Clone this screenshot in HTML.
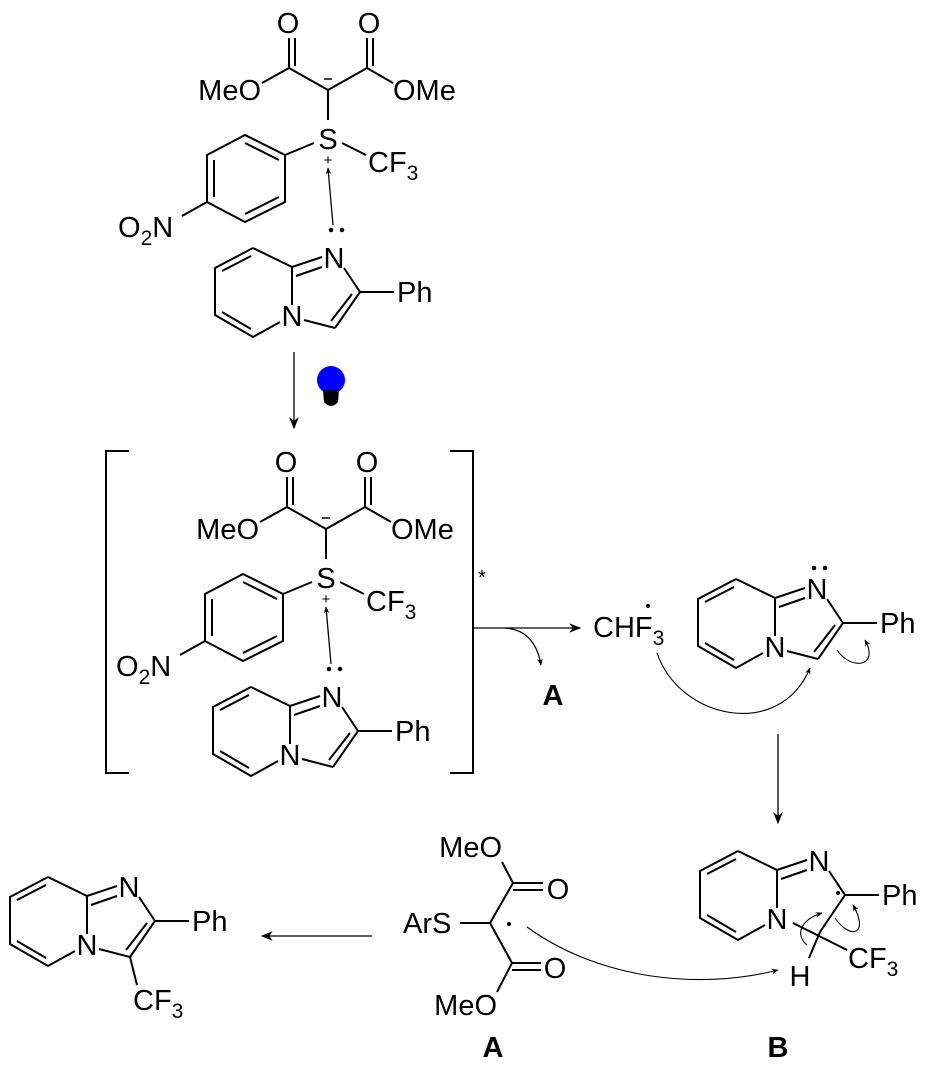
<!DOCTYPE html>
<html><head><meta charset="utf-8"><style>
html,body{margin:0;padding:0;background:#fff}
svg{display:block}
text{font-family:"Liberation Sans",Arial,sans-serif;font-size:29px;fill:#000}
.b{font-weight:bold}
</style></head><body>
<svg width="928" height="1076" viewBox="0 0 928 1076" xmlns="http://www.w3.org/2000/svg">
<defs>
<marker id="ah" viewBox="0 0 10 10" refX="9" refY="5" markerWidth="7" markerHeight="7" orient="auto" markerUnits="userSpaceOnUse"><path d="M0,1 L10,5 L0,9 L3,5 z" fill="#000"/></marker>
<marker id="ahL" viewBox="0 0 10 10" refX="9" refY="5" markerWidth="14" markerHeight="12" orient="auto" markerUnits="userSpaceOnUse"><path d="M0,1 L10,5 L0,9 L3,5 z" fill="#000"/></marker>
</defs>

<!-- ===== Top complex ===== -->
<g id="cx1" stroke="#000" stroke-width="2" fill="none">
  <!-- malonate -->
  <line x1="289" y1="68" x2="289" y2="38"/><line x1="295" y1="66" x2="295" y2="38"/>
  <line x1="367" y1="68" x2="367" y2="38"/><line x1="373" y1="66" x2="373" y2="38"/>
  <line x1="289" y1="68" x2="328" y2="90"/><line x1="367" y1="68" x2="328" y2="90"/>
  <line x1="289" y1="68" x2="262" y2="83"/><line x1="367" y1="68" x2="393" y2="83"/>
  <line x1="324" y1="79" x2="332" y2="79" stroke-width="1.5"/>
  <line x1="328" y1="90" x2="328" y2="120"/>
  <line x1="314" y1="143" x2="285" y2="155"/>
  <line x1="342" y1="143" x2="366" y2="155"/>
  <!-- benzene -->
  <polygon points="285,155 245,135 207,155 207,202 245,222 285,202"/>
  <line x1="245" y1="143" x2="279" y2="160"/>
  <line x1="214" y1="160" x2="214" y2="197"/>
  <line x1="245" y1="214" x2="279" y2="197"/>
  <line x1="207" y1="202" x2="182" y2="216"/>
  <!-- dative arrow -->
  <line x1="333" y1="225" x2="328" y2="168" stroke-width="1.3" marker-end="url(#ah)"/>
  <!-- imidazopyridine -->
  <g id="imz1">
    <line x1="292" y1="267" x2="322" y2="257"/><line x1="296" y1="276" x2="322" y2="267"/>
    <line x1="292" y1="267" x2="292" y2="305"/>
    <line x1="292" y1="267" x2="253" y2="248"/>
    <polyline points="253,248 215,268 215,315 253,337 280,322"/>
    <line x1="251" y1="256" x2="222" y2="271"/>
    <line x1="222" y1="312" x2="251" y2="329"/>
    <line x1="344" y1="268" x2="360" y2="292"/>
    <line x1="360" y1="292" x2="335" y2="328"/><line x1="352" y1="294" x2="331" y2="321"/>
    <line x1="304" y1="320" x2="335" y2="328"/>
    <line x1="360" y1="292" x2="394" y2="292"/>
  </g>
</g>
<g id="cx1t">
  <text x="288" y="33" text-anchor="middle">O</text>
  <text x="369" y="33" text-anchor="middle">O</text>
  <text x="261" y="100" text-anchor="end">MeO</text>
  <text x="393" y="100">OMe</text>
  <text x="328" y="149" text-anchor="middle">S</text>
  <text x="328" y="165" text-anchor="middle" style="font-size:15px">+</text>
  <text x="368" y="172">CF<tspan dy="8" style="font-size:21px">3</tspan></text>
  <text x="118" y="237">O<tspan dy="8" style="font-size:21px">2</tspan><tspan dy="-8">N</tspan></text>
  <circle cx="331" cy="230" r="2.3"/><circle cx="342" cy="230" r="2.3"/>
  <text x="334" y="268" text-anchor="middle">N</text>
  <text x="292" y="326" text-anchor="middle">N</text>
  <text x="397" y="302">Ph</text>
</g>

<!-- reaction arrow + bulb -->
<line x1="294" y1="352" x2="294" y2="428" stroke="#000" stroke-width="1.3" marker-end="url(#ahL)"/>
<circle cx="331" cy="380" r="14" fill="#0000ff"/>
<path d="M323,390 L339,390 L338,402 Q331,410 324,402 Z" fill="#000"/>

<!-- ===== Bracketed copy ===== -->
<g transform="translate(-2,439)">
  <use href="#cx1"/>
  <g>
  <text x="288" y="33" text-anchor="middle">O</text>
  <text x="369" y="33" text-anchor="middle">O</text>
  <text x="261" y="100" text-anchor="end">MeO</text>
  <text x="393" y="100">OMe</text>
  <text x="328" y="149" text-anchor="middle">S</text>
  <text x="328" y="165" text-anchor="middle" style="font-size:15px">+</text>
  <text x="368" y="172">CF<tspan dy="8" style="font-size:21px">3</tspan></text>
  <text x="118" y="237">O<tspan dy="8" style="font-size:21px">2</tspan><tspan dy="-8">N</tspan></text>
  <circle cx="331" cy="230" r="2.3"/><circle cx="342" cy="230" r="2.3"/>
  <text x="334" y="268" text-anchor="middle">N</text>
  <text x="292" y="326" text-anchor="middle">N</text>
  <text x="397" y="302">Ph</text>
  </g>
</g>
<g stroke="#000" stroke-width="2" fill="none">
  <polyline points="129,451 106,451 106,773 129,773"/>
  <polyline points="450,451 473,451 473,773 450,773"/>
</g>
<text x="478" y="584" style="font-size:20px">*</text>

<!-- arrow to CHF3 -->
<line x1="473" y1="628" x2="580" y2="628" stroke="#000" stroke-width="1.3" marker-end="url(#ahL)"/>
<path d="M505,628 Q535,630 541,665" stroke="#000" stroke-width="1.2" fill="none" marker-end="url(#ah)"/>
<text x="553" y="705" text-anchor="middle" class="b">A</text>
<text x="593" y="637">CHF<tspan dy="8" style="font-size:21px">3</tspan></text>
<circle cx="648" cy="606" r="2" fill="#000"/>

<!-- right top imidazopyridine -->
<g transform="translate(483,331)" stroke="#000" stroke-width="2" fill="none">
  <use href="#imz1"/>
</g>
<g transform="translate(483,331)">
  <text x="334" y="268" text-anchor="middle">N</text>
  <text x="292" y="326" text-anchor="middle">N</text>
  <text x="397" y="302">Ph</text>
  <circle cx="331" cy="237" r="2.3"/><circle cx="342" cy="237" r="2.3"/>
</g>
<path d="M657,653 C680,720 780,740 810,668" stroke="#000" stroke-width="1.1" fill="none" marker-end="url(#ah)"/>
<path d="M837,650 C850,670 880,668 865,640" stroke="#000" stroke-width="1.1" fill="none" marker-end="url(#ah)"/>

<!-- down arrow -->
<line x1="778" y1="734" x2="778" y2="823" stroke="#000" stroke-width="1.3" marker-end="url(#ahL)"/>

<!-- B -->
<g transform="translate(485,603)" stroke="#000" stroke-width="2" fill="none">
  <line x1="292" y1="267" x2="322" y2="257"/><line x1="296" y1="276" x2="322" y2="267"/>
  <line x1="292" y1="267" x2="292" y2="305"/>
  <line x1="292" y1="267" x2="253" y2="248"/>
  <polyline points="253,248 215,268 215,315 253,337 280,322"/>
  <line x1="251" y1="256" x2="222" y2="271"/>
  <line x1="222" y1="312" x2="251" y2="329"/>
  <line x1="344" y1="268" x2="360" y2="292"/>
  <line x1="360" y1="292" x2="394" y2="292"/>
</g>
<g stroke="#000" stroke-width="2" fill="none">
  <line x1="845" y1="895" x2="820" y2="932"/>
  <line x1="793" y1="923" x2="847" y2="950"/>
  <line x1="820" y1="932" x2="809" y2="958"/>
</g>
<g transform="translate(485,603)">
  <text x="334" y="268" text-anchor="middle">N</text>
  <text x="292" y="326" text-anchor="middle">N</text>
  <text x="397" y="302">Ph</text>
</g>
<circle cx="838" cy="893" r="2" fill="#000"/>
<text x="800" y="986" text-anchor="middle">H</text>
<text x="848" y="968">CF<tspan dy="8" style="font-size:21px">3</tspan></text>
<path d="M807,945 C795,935 800,920 822,913" stroke="#000" stroke-width="1.1" fill="none" marker-end="url(#ah)"/>
<path d="M835,918 C850,940 870,935 853,905" stroke="#000" stroke-width="1.1" fill="none" marker-end="url(#ah)"/>
<text x="778" y="1057" text-anchor="middle" class="b">B</text>

<!-- radical A -->
<g stroke="#000" stroke-width="2" fill="none">
  <line x1="460" y1="923" x2="490" y2="923"/>
  <line x1="490" y1="923" x2="513" y2="883"/>
  <line x1="490" y1="923" x2="512" y2="963"/>
  <line x1="513" y1="883" x2="543" y2="883"/><line x1="513" y1="890" x2="543" y2="890"/>
  <line x1="512" y1="963" x2="541" y2="963"/><line x1="512" y1="970" x2="541" y2="970"/>
  <line x1="502" y1="862" x2="513" y2="883"/>
  <line x1="512" y1="963" x2="497" y2="992"/>
</g>
<text x="403" y="933">ArS</text>
<text x="558" y="899" text-anchor="middle">O</text>
<text x="555" y="978" text-anchor="middle">O</text>
<text x="502" y="857" text-anchor="end">MeO</text>
<text x="497" y="1015" text-anchor="end">MeO</text>
<circle cx="509" cy="924" r="2" fill="#000"/>
<text x="493" y="1057" text-anchor="middle" class="b">A</text>
<path d="M527,927 C600,980 700,990 778,970" stroke="#000" stroke-width="1.1" fill="none" marker-end="url(#ah)"/>

<!-- arrow to product -->
<line x1="372" y1="936" x2="262" y2="936" stroke="#000" stroke-width="1.3" marker-end="url(#ahL)"/>

<!-- product -->
<g transform="translate(-205,629)" stroke="#000" stroke-width="2" fill="none">
  <use href="#imz1"/>
  <line x1="335" y1="328" x2="342" y2="356"/>
</g>
<g transform="translate(-205,629)">
  <text x="334" y="268" text-anchor="middle">N</text>
  <text x="292" y="326" text-anchor="middle">N</text>
  <text x="397" y="302">Ph</text>
</g>
<text x="133" y="1010">CF<tspan dy="8" style="font-size:21px">3</tspan></text>
</svg>
</body></html>
